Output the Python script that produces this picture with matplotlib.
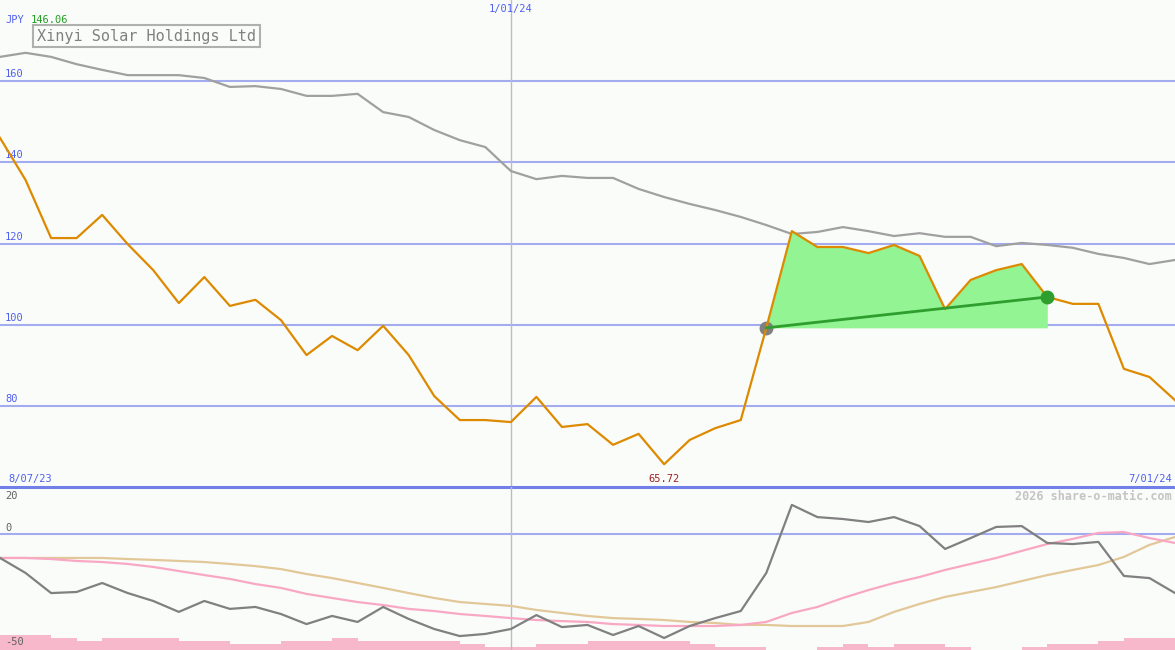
import matplotlib
matplotlib.use('Agg')
import matplotlib.pyplot as plt
import numpy as np

# weekly closes, JPY
price = [146.06, 135.7, 121.4, 121.4, 127.1, 119.9, 113.5, 105.4, 111.8, 104.7,
         106.2, 101.2, 92.6, 97.3, 93.8, 99.8, 92.6, 82.5, 76.6, 76.6,
         76.1, 82.3, 74.9, 75.6, 70.5, 73.2, 65.72, 71.7, 74.6, 76.6,
         99.3, 123.1, 119.2, 119.2, 117.7, 119.7, 117.0, 103.9, 111.1, 113.5,
         115.0, 106.9, 105.2, 105.2, 89.2, 87.2, 81.5]
avg = [166.0, 167.0, 166.0, 164.2, 162.8, 161.5, 161.5, 161.5, 160.8, 158.6,
       158.8, 158.1, 156.4, 156.4, 156.9, 152.4, 151.2, 148.0, 145.5, 143.8,
       137.9, 135.9, 136.7, 136.2, 136.2, 133.5, 131.5, 129.8, 128.3, 126.6,
       124.6, 122.4, 122.9, 124.1, 123.1, 121.9, 122.6, 121.7, 121.7, 119.4,
       120.2, 119.7, 119.0, 117.5, 116.5, 115.0, 116.0]

# lower panel indicators
osc = [-11.2, -18.2, -27.6, -27.1, -22.9, -27.6, -31.3, -36.4, -31.3, -35.0,
       -34.1, -37.4, -42.1, -38.3, -41.1, -34.1, -39.7, -44.4, -47.7, -46.7,
       -44.4, -37.9, -43.5, -42.5, -47.2, -43.0, -48.6, -43.0, -39.3, -36.0,
       -18.2, 13.6, 7.9, 7.0, 5.6, 7.9, 3.7, -7.0, -1.9, 3.3,
       3.7, -4.2, -4.7, -3.7, -19.6, -20.6, -27.6]
sig_fast = [-11.2, -11.2, -11.7, -12.6, -13.1, -14.0, -15.4, -17.3, -19.2, -21.0,
            -23.4, -25.2, -28.0, -29.9, -31.8, -33.2, -35.0, -36.0, -37.4, -38.3,
            -39.3, -40.2, -40.7, -41.1, -42.1, -42.5, -43.0, -43.0, -43.0, -42.5,
            -41.1, -36.9, -34.1, -29.9, -26.2, -22.9, -20.1, -16.8, -14.0, -11.2,
            -7.9, -4.7, -2.3, 0.5, 0.9, -1.9, -4.2]
sig_slow = [-11.2, -11.2, -11.2, -11.2, -11.2, -11.7, -12.1, -12.6, -13.1, -14.0,
            -15.0, -16.4, -18.7, -20.6, -22.9, -25.2, -27.6, -29.9, -31.8, -32.7,
            -33.6, -35.5, -36.9, -38.3, -39.3, -39.7, -40.2, -41.1, -41.6, -42.5,
            -42.5, -43.0, -43.0, -43.0, -41.1, -36.4, -32.7, -29.4, -27.1, -24.8,
            -22.0, -19.2, -16.8, -14.5, -10.7, -5.1, -1.4]
vol = [5, 5, 4, 3, 4, 4, 4, 3, 3, 2, 2, 3, 3, 4, 3, 3, 3, 3, 2, 1, 1, 2, 2,
       3, 3, 3, 3, 2, 1, 1, 0, 0, 1, 2, 1, 2, 2, 1, 0, 0, 1, 2, 2, 3, 4, 4]

x = np.arange(len(price))
buy_i, sell_i = 30, 41

bg = '#FAFCFA'
grid_c = '#A4ACF0'
blue_txt = '#5060F0'
mono = 'DejaVu Sans Mono'

fig = plt.figure(figsize=(11.75, 6.5), dpi=100, facecolor=bg)
ax = fig.add_axes([0, 163/650, 1, 487/650], facecolor=bg)
ax2 = fig.add_axes([0, 0, 1, 163/650], facecolor=bg)

for a in (ax, ax2):
    a.set_xlim(0, len(price) - 1)
    a.set_xticks([])
    a.set_yticks([])
    for s in a.spines.values():
        s.set_visible(False)

ax.set_ylim(60.12, 180.0)
for lv in [80, 100, 120, 140, 160]:
    ax.axhline(lv, color=grid_c, lw=1.5, zorder=1)
    ax.text(5/1175, lv + 0.5, str(lv), transform=ax.get_yaxis_transform(),
            fontsize=7.5, family=mono, color=blue_txt, va='bottom', ha='left')
ax.axvline(20, color='#B8BACE', lw=1, zorder=1)
ax.axhline(60.12, color='#7080E8', lw=2.2, zorder=5, clip_on=False)

ax.plot(x, avg, color='#A0A0A0', lw=1.6, zorder=2)
base = price[buy_i]
ax.fill_between(x[buy_i:sell_i + 1], price[buy_i:sell_i + 1], base,
                color='#92F492', lw=0, zorder=2)
ax.plot(x, price, color='#DD8A00', lw=1.6, zorder=3)
ax.plot([buy_i, sell_i], [price[buy_i], price[sell_i]], color='#2E9E2E', lw=2, zorder=4)
ax.plot(buy_i, price[buy_i], 'o', color='#808080', ms=9, zorder=2.5)
ax.plot(sell_i, price[sell_i], 'o', color='#2E9E2E', ms=9, zorder=5)

ax.text(5/1175, 1 - 20/487, 'JPY', transform=ax.transAxes, fontsize=7.5, family=mono,
        color=blue_txt, va='center', ha='left')
ax.text(31/1175, 1 - 20/487, '146.06', transform=ax.transAxes, fontsize=7.5, family=mono,
        color='#20A020', va='center', ha='left')
ax.text(37/1175, 1 - 36/487, 'Xinyi Solar Holdings Ltd', transform=ax.transAxes,
        fontsize=11, family=mono, color='#808080', va='center', ha='left',
        bbox=dict(boxstyle='square,pad=0.25', fc=bg, ec='#B0B0B0', lw=1.5))
ax.text(20, 1 - 9/487, '1/01/24', transform=ax.get_xaxis_transform(), fontsize=7.5,
        family=mono, color=blue_txt, va='center', ha='center')
ax.text(8/1175, 8/487, '8/07/23', transform=ax.transAxes, fontsize=7.5, family=mono,
        color=blue_txt, va='center', ha='left')
ax.text(1172/1175, 8/487, '7/01/24', transform=ax.transAxes, fontsize=7.5, family=mono,
        color=blue_txt, va='center', ha='right')
ax.text(26, 8/487, '65.72', transform=ax.get_xaxis_transform(), fontsize=7.5,
        family=mono, color='#A02020', va='center', ha='center')

# lower panel
ax2.set_ylim(-54.21, 21.96)
ax2.axhline(0, color=grid_c, lw=1.5, zorder=1)
ax2.axvline(20, color='#B8BACE', lw=1, zorder=1)
axv = ax2.twinx()
axv.set_ylim(0, 163/3)
axv.set_yticks([])
for s in axv.spines.values():
    s.set_visible(False)
axv.bar(x[:-1], vol, width=1, align='edge', color='#F8B8CC', lw=0, zorder=0)
ax2.set_zorder(axv.get_zorder() + 1)
ax2.patch.set_visible(False)
axv.patch.set_facecolor(bg)

ax2.plot(x, sig_slow, color='#E2C898', lw=1.6, zorder=2)
ax2.plot(x, sig_fast, color='#F8A8C4', lw=1.6, zorder=2)
ax2.plot(x, osc, color='#808080', lw=1.6, zorder=3)

ax2.text(5/1175, 1 - 9/163, '20', transform=ax2.transAxes, fontsize=7.5, family=mono,
         color='#606060', va='center', ha='left')
ax2.text(5/1175, 1 - 41/163, '0', transform=ax2.transAxes, fontsize=7.5, family=mono,
         color='#606060', va='center', ha='left')
ax2.text(5/1175, 8/163, '-50', transform=ax2.transAxes, fontsize=7.5, family=mono,
         color='#606060', va='center', ha='left')
ax2.text(1172/1175, 1 - 9/163, '2026 share-o-matic.com', transform=ax2.transAxes,
         fontsize=8.5, family=mono, weight='bold', color='#C4C4C4', va='center', ha='right')

plt.savefig('out.png', dpi=100, facecolor=bg)
